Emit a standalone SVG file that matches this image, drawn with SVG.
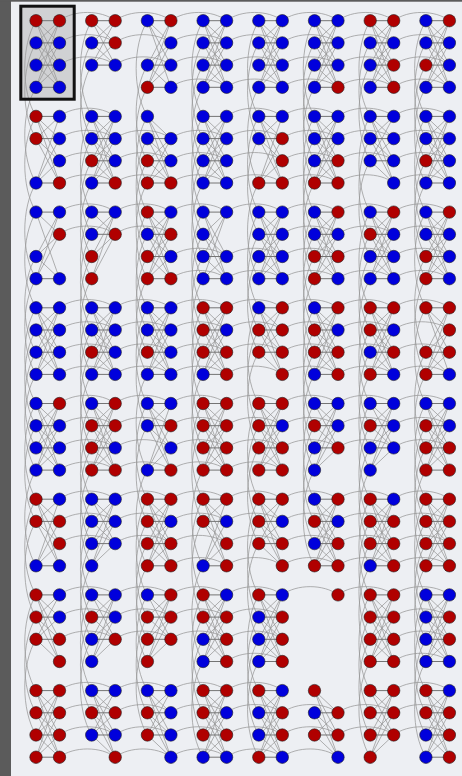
<svg xmlns="http://www.w3.org/2000/svg" xmlns:xlink="http://www.w3.org/1999/xlink" width="462" height="776" viewBox="0 0 462 776">
<style>
circle{r:6.2px;stroke:#1e1e1e;stroke-width:.6}
.r{fill:#b00000}
.b{fill:#0000dc}
</style>
<defs>
<path id="xK" d="M0 0L23.5 22.2M0 0L23.5 44.4M0 0L23.5 66.6M0 22.2L23.5 0M0 22.2L23.5 44.4M0 22.2L23.5 66.6M0 44.4L23.5 0M0 44.4L23.5 22.2M0 44.4L23.5 66.6M0 66.6L23.5 0M0 66.6L23.5 22.2M0 66.6L23.5 44.4"/>
<g id="K"><use href="#xK"/><path stroke="#747474" stroke-width="1" d="M0 0H23.5M0 22.2H23.5M0 44.4H23.5M0 66.6H23.5"/></g>
<g id="K01"><path d="M0 0L23.5 22.2M0 0L23.5 44.4M0 22.2L23.5 0M0 22.2L23.5 44.4M0 44.4L23.5 0M0 44.4L23.5 22.2"/><path stroke="#747474" stroke-width="1" d="M0 0H23.5M0 22.2H23.5M0 44.4H23.5"/></g>
<g id="K20"><path d="M0 0L23.5 22.2M0 0L23.5 66.6M0 44.4L23.5 0M0 44.4L23.5 22.2M0 44.4L23.5 66.6M0 66.6L23.5 0M0 66.6L23.5 22.2"/><path stroke="#747474" stroke-width="1" d="M0 0H23.5M0 66.6H23.5"/></g>
<g id="K21"><path d="M0 0L23.5 22.2M0 22.2L23.5 0M0 44.4L23.5 0M0 44.4L23.5 22.2M0 66.6L23.5 0M0 66.6L23.5 22.2"/><path stroke="#747474" stroke-width="1" d="M0 0H23.5M0 22.2H23.5"/></g>
<g id="K23"><path d="M0 0L23.5 44.4M0 0L23.5 66.6M0 22.2L23.5 0M0 22.2L23.5 44.4M0 22.2L23.5 66.6M0 44.4L23.5 0M0 44.4L23.5 66.6M0 66.6L23.5 0M0 66.6L23.5 44.4"/><path stroke="#747474" stroke-width="1" d="M0 0H23.5M0 44.4H23.5M0 66.6H23.5"/></g>
<g id="K75"><path d="M0 0L23.5 22.2M0 0L23.5 44.4M0 0L23.5 66.6M0 22.2L23.5 44.4M0 22.2L23.5 66.6M0 44.4L23.5 22.2M0 44.4L23.5 66.6"/><path stroke="#747474" stroke-width="1" d="M0 22.2H23.5M0 44.4H23.5"/></g>
<g id="KL1"><path d="M0 0L23.5 22.2M0 0L23.5 44.4M0 0L23.5 66.6M0 44.4L23.5 0M0 44.4L23.5 22.2M0 44.4L23.5 66.6M0 66.6L23.5 0M0 66.6L23.5 22.2M0 66.6L23.5 44.4"/><path stroke="#747474" stroke-width="1" d="M0 0H23.5M0 44.4H23.5M0 66.6H23.5"/></g>
<g id="KL2"><path d="M0 0L23.5 22.2M0 0L23.5 44.4M0 0L23.5 66.6M0 22.2L23.5 0M0 22.2L23.5 44.4M0 22.2L23.5 66.6M0 66.6L23.5 0M0 66.6L23.5 22.2M0 66.6L23.5 44.4"/><path stroke="#747474" stroke-width="1" d="M0 0H23.5M0 22.2H23.5M0 66.6H23.5"/></g>
<g id="KL3"><path d="M0 0L23.5 22.2M0 0L23.5 44.4M0 0L23.5 66.6M0 22.2L23.5 0M0 22.2L23.5 44.4M0 22.2L23.5 66.6M0 44.4L23.5 0M0 44.4L23.5 22.2M0 44.4L23.5 66.6"/><path stroke="#747474" stroke-width="1" d="M0 0H23.5M0 22.2H23.5M0 44.4H23.5"/></g>
<g id="KR3"><path d="M0 0L23.5 22.2M0 0L23.5 44.4M0 22.2L23.5 0M0 22.2L23.5 44.4M0 44.4L23.5 0M0 44.4L23.5 22.2M0 66.6L23.5 0M0 66.6L23.5 22.2M0 66.6L23.5 44.4"/><path stroke="#747474" stroke-width="1" d="M0 0H23.5M0 22.2H23.5M0 44.4H23.5"/></g>
<g id="KR0"><path d="M0 0L23.5 22.2M0 0L23.5 44.4M0 0L23.5 66.6M0 22.2L23.5 44.4M0 22.2L23.5 66.6M0 44.4L23.5 22.2M0 44.4L23.5 66.6M0 66.6L23.5 22.2M0 66.6L23.5 44.4"/><path stroke="#747474" stroke-width="1" d="M0 22.2H23.5M0 44.4H23.5M0 66.6H23.5"/></g>
<path id="v0" d="M0 0c-15 25 -15 70.7 0 95.7"/>
<path id="v1" d="M0 22.2c-15 25 -15 70.7 0 95.7"/>
<path id="v2" d="M0 44.4c-15 25 -15 70.7 0 95.7"/>
<path id="v3" d="M0 66.6c-15 25 -15 70.7 0 95.7"/>
<g id="V"><use href="#v0"/><use href="#v1"/><use href="#v2"/><use href="#v3"/></g>
<path id="h0" d="M23.5 0c14 -11 41.7 -11 55.7 0"/>
<path id="h1" d="M23.5 22.2c14 -11 41.7 -11 55.7 0"/>
<path id="h2" d="M23.5 44.4c14 -11 41.7 -11 55.7 0"/>
<path id="h3" d="M23.5 66.6c14 -11 41.7 -11 55.7 0"/>
<g id="H"><use href="#h0"/><use href="#h1"/><use href="#h2"/><use href="#h3"/></g>
</defs>
<rect width="462" height="776" fill="#edeff3"/>
<rect width="11" height="776" fill="#5b5b5b"/>
<rect width="462" height="1.7" fill="#5b5b5b"/>
<rect id="frame-fill" x="20.8" y="6.2" width="53.4" height="93" fill="#d0d1d3"/>
<g id="connectors" fill="none" stroke="#979797" stroke-width=".75">
<g transform="translate(36 20.7)"><use href="#K"/><use href="#v0"/><use href="#v1"/><use href="#v3"/><use href="#h0"/><use href="#h1"/><use href="#h2"/></g>
<g transform="translate(91.7 20.7)"><use href="#K01"/><use href="#v0"/><use href="#v1"/><use href="#v2"/><use href="#h0"/><use href="#h1"/><use href="#h2"/></g>
<g transform="translate(147.4 20.7)"><use href="#KL1"/><use href="#v0"/><use href="#v2"/><use href="#v3"/><use href="#H"/></g>
<g transform="translate(203.1 20.7)"><use href="#K"/><use href="#V"/><use href="#H"/></g>
<g transform="translate(258.8 20.7)"><use href="#K"/><use href="#v0"/><use href="#v1"/><use href="#v3"/><use href="#H"/></g>
<g transform="translate(314.5 20.7)"><use href="#K"/><use href="#V"/><use href="#H"/></g>
<g transform="translate(370.2 20.7)"><use href="#K"/><use href="#v0"/><use href="#v1"/><use href="#v2"/><use href="#H"/></g>
<g transform="translate(425.9 20.7)"><use href="#K"/><use href="#V"/></g>

<g transform="translate(36 116.4)"><use href="#KL2"/><use href="#v0"/><use href="#v3"/><use href="#H"/></g>
<g transform="translate(91.7 116.4)"><use href="#K"/><use href="#V"/><use href="#h1"/><use href="#h2"/><use href="#h3"/></g>
<g transform="translate(147.4 116.4)"><use href="#KR0"/><use href="#V"/><use href="#h1"/><use href="#h2"/><use href="#h3"/></g>
<g transform="translate(203.1 116.4)"><use href="#K"/><use href="#V"/><use href="#H"/></g>
<g transform="translate(258.8 116.4)"><use href="#KL2"/><use href="#v0"/><use href="#v1"/><use href="#v3"/><use href="#H"/></g>
<g transform="translate(314.5 116.4)"><use href="#K"/><use href="#V"/><use href="#H"/></g>
<g transform="translate(370.2 116.4)"><use href="#KL3"/><use href="#v0"/><use href="#v1"/><use href="#v2"/><use href="#H"/></g>
<g transform="translate(425.9 116.4)"><use href="#K"/><use href="#V"/></g>

<g transform="translate(36 212.1)"><use href="#K20"/><use href="#v0"/><use href="#v2"/><use href="#v3"/><use href="#h0"/><use href="#h1"/></g>
<g transform="translate(91.7 212.1)"><use href="#K21"/><use href="#V"/><use href="#h0"/><use href="#h1"/></g>
<g transform="translate(147.4 212.1)"><use href="#K"/><use href="#V"/><use href="#h0"/><use href="#h2"/><use href="#h3"/></g>
<g transform="translate(203.1 212.1)"><use href="#K23"/><use href="#V"/><use href="#h0"/><use href="#h2"/><use href="#h3"/></g>
<g transform="translate(258.8 212.1)"><use href="#K"/><use href="#v0"/><use href="#v1"/><use href="#v2"/><use href="#H"/></g>
<g transform="translate(314.5 212.1)"><use href="#K"/><use href="#V"/><use href="#H"/></g>
<g transform="translate(370.2 212.1)"><use href="#K"/><use href="#V"/><use href="#H"/></g>
<g transform="translate(425.9 212.1)"><use href="#K"/><use href="#v0"/><use href="#v2"/><use href="#v3"/></g>

<g transform="translate(36 307.8)"><use href="#K"/><use href="#V"/><use href="#H"/></g>
<g transform="translate(91.7 307.8)"><use href="#K"/><use href="#V"/><use href="#H"/></g>
<g transform="translate(147.4 307.8)"><use href="#K"/><use href="#v0"/><use href="#v1"/><use href="#v3"/><use href="#H"/></g>
<g transform="translate(203.1 307.8)"><use href="#K"/><use href="#V"/><use href="#H"/></g>
<g transform="translate(258.8 307.8)"><use href="#KL3"/><use href="#v0"/><use href="#v1"/><use href="#v2"/><use href="#H"/></g>
<g transform="translate(314.5 307.8)"><use href="#K"/><use href="#V"/><use href="#H"/></g>
<g transform="translate(370.2 307.8)"><use href="#K"/><use href="#V"/><use href="#H"/></g>
<g transform="translate(425.9 307.8)"><use href="#KL1"/><use href="#v0"/><use href="#v2"/><use href="#v3"/></g>

<g transform="translate(36 403.5)"><use href="#K"/><use href="#v0"/><use href="#v1"/><use href="#v3"/><use href="#H"/></g>
<g transform="translate(91.7 403.5)"><use href="#K"/><use href="#V"/><use href="#H"/></g>
<g transform="translate(147.4 403.5)"><use href="#KL2"/><use href="#v0"/><use href="#v1"/><use href="#v3"/><use href="#H"/></g>
<g transform="translate(203.1 403.5)"><use href="#K"/><use href="#v0"/><use href="#v1"/><use href="#v3"/><use href="#H"/></g>
<g transform="translate(258.8 403.5)"><use href="#K"/><use href="#v0"/><use href="#v1"/><use href="#v2"/><use href="#h0"/><use href="#h1"/><use href="#h2"/></g>
<g transform="translate(314.5 403.5)"><use href="#KR3"/><use href="#V"/><use href="#h0"/><use href="#h1"/><use href="#h2"/></g>
<g transform="translate(370.2 403.5)"><use href="#KR3"/><use href="#V"/><use href="#h0"/><use href="#h1"/><use href="#h2"/></g>
<g transform="translate(425.9 403.5)"><use href="#K"/><use href="#V"/></g>

<g transform="translate(36 499.2)"><use href="#KL2"/><use href="#v0"/><use href="#v1"/><use href="#h0"/><use href="#h1"/><use href="#h2"/></g>
<g transform="translate(91.7 499.2)"><use href="#KR3"/><use href="#V"/><use href="#h0"/><use href="#h1"/><use href="#h2"/></g>
<g transform="translate(147.4 499.2)"><use href="#K"/><use href="#V"/><use href="#H"/></g>
<g transform="translate(203.1 499.2)"><use href="#KL2"/><use href="#v0"/><use href="#v1"/><use href="#v3"/><use href="#H"/></g>
<g transform="translate(258.8 499.2)"><use href="#KL3"/><use href="#v0"/><use href="#v1"/><use href="#v2"/><use href="#H"/></g>
<g transform="translate(314.5 499.2)"><use href="#K"/><use href="#H"/></g>
<g transform="translate(370.2 499.2)"><use href="#K"/><use href="#V"/><use href="#H"/></g>
<g transform="translate(425.9 499.2)"><use href="#K"/><use href="#V"/></g>

<g transform="translate(36 594.9)"><use href="#KL3"/><use href="#v0"/><use href="#v1"/><use href="#v2"/><use href="#h0"/><use href="#h1"/><use href="#h2"/></g>
<g transform="translate(91.7 594.9)"><use href="#KR3"/><use href="#v0"/><use href="#v1"/><use href="#v2"/><use href="#h0"/><use href="#h1"/><use href="#h2"/></g>
<g transform="translate(147.4 594.9)"><use href="#KR3"/><use href="#v0"/><use href="#v1"/><use href="#v2"/><use href="#h0"/><use href="#h1"/><use href="#h2"/></g>
<g transform="translate(203.1 594.9)"><use href="#K"/><use href="#V"/><use href="#H"/></g>
<g transform="translate(258.8 594.9)"><use href="#K"/><use href="#V"/><use href="#h0"/></g>
<g transform="translate(314.5 594.9)"><use href="#h0"/></g>
<g transform="translate(370.2 594.9)"><use href="#K"/><use href="#V"/><use href="#H"/></g>
<g transform="translate(425.9 594.9)"><use href="#K"/><use href="#V"/></g>

<g transform="translate(36 690.6)"><use href="#K"/><use href="#H"/></g>
<g transform="translate(91.7 690.6)"><use href="#KL3"/><use href="#H"/></g>
<g transform="translate(147.4 690.6)"><use href="#KL3"/><use href="#H"/></g>
<g transform="translate(203.1 690.6)"><use href="#K"/><use href="#H"/></g>
<g transform="translate(258.8 690.6)"><use href="#K"/><use href="#h1"/><use href="#h2"/><use href="#h3"/></g>
<g transform="translate(314.5 690.6)"><use href="#K75"/><use href="#h1"/><use href="#h2"/></g>
<g transform="translate(370.2 690.6)"><use href="#KR3"/><use href="#h0"/><use href="#h1"/><use href="#h2"/></g>
<g transform="translate(425.9 690.6)"><use href="#K"/></g>
</g>
<g id="nodes">
<g id="c00" transform="translate(36 20.7)"><g id="n00L0"><circle class="r"/></g><g id="n00L1"><circle class="b" cy="22.2"/></g><g id="n00L2"><circle class="b" cy="44.4"/></g><g id="n00L3"><circle class="b" cy="66.6"/></g><g transform="translate(23.5 0)"><g id="n00R0"><circle class="r"/></g><g id="n00R1"><circle class="b" cy="22.2"/></g><g id="n00R2"><circle class="b" cy="44.4"/></g><g id="n00R3"><circle class="b" cy="66.6"/></g></g></g>
<g id="c01" transform="translate(91.7 20.7)"><g id="n01L0"><circle class="r"/></g><g id="n01L1"><circle class="b" cy="22.2"/></g><g id="n01L2"><circle class="b" cy="44.4"/></g><g transform="translate(23.5 0)"><g id="n01R0"><circle class="r"/></g><g id="n01R1"><circle class="r" cy="22.2"/></g><g id="n01R2"><circle class="b" cy="44.4"/></g></g></g>
<g id="c02" transform="translate(147.4 20.7)"><g id="n02L0"><circle class="b"/></g><g id="n02L2"><circle class="b" cy="44.4"/></g><g id="n02L3"><circle class="r" cy="66.6"/></g><g transform="translate(23.5 0)"><g id="n02R0"><circle class="r"/></g><g id="n02R1"><circle class="b" cy="22.2"/></g><g id="n02R2"><circle class="b" cy="44.4"/></g><g id="n02R3"><circle class="b" cy="66.6"/></g></g></g>
<g id="c03" transform="translate(203.1 20.7)"><g id="n03L0"><circle class="b"/></g><g id="n03L1"><circle class="b" cy="22.2"/></g><g id="n03L2"><circle class="b" cy="44.4"/></g><g id="n03L3"><circle class="b" cy="66.6"/></g><g transform="translate(23.5 0)"><g id="n03R0"><circle class="b"/></g><g id="n03R1"><circle class="b" cy="22.2"/></g><g id="n03R2"><circle class="b" cy="44.4"/></g><g id="n03R3"><circle class="b" cy="66.6"/></g></g></g>
<g id="c04" transform="translate(258.8 20.7)"><g id="n04L0"><circle class="b"/></g><g id="n04L1"><circle class="b" cy="22.2"/></g><g id="n04L2"><circle class="b" cy="44.4"/></g><g id="n04L3"><circle class="b" cy="66.6"/></g><g transform="translate(23.5 0)"><g id="n04R0"><circle class="b"/></g><g id="n04R1"><circle class="b" cy="22.2"/></g><g id="n04R2"><circle class="b" cy="44.4"/></g><g id="n04R3"><circle class="b" cy="66.6"/></g></g></g>
<g id="c05" transform="translate(314.5 20.7)"><g id="n05L0"><circle class="b"/></g><g id="n05L1"><circle class="b" cy="22.2"/></g><g id="n05L2"><circle class="b" cy="44.4"/></g><g id="n05L3"><circle class="b" cy="66.6"/></g><g transform="translate(23.5 0)"><g id="n05R0"><circle class="b"/></g><g id="n05R1"><circle class="b" cy="22.2"/></g><g id="n05R2"><circle class="b" cy="44.4"/></g><g id="n05R3"><circle class="r" cy="66.6"/></g></g></g>
<g id="c06" transform="translate(370.2 20.7)"><g id="n06L0"><circle class="r"/></g><g id="n06L1"><circle class="b" cy="22.2"/></g><g id="n06L2"><circle class="b" cy="44.4"/></g><g id="n06L3"><circle class="b" cy="66.6"/></g><g transform="translate(23.5 0)"><g id="n06R0"><circle class="r"/></g><g id="n06R1"><circle class="b" cy="22.2"/></g><g id="n06R2"><circle class="r" cy="44.4"/></g><g id="n06R3"><circle class="r" cy="66.6"/></g></g></g>
<g id="c07" transform="translate(425.9 20.7)"><g id="n07L0"><circle class="b"/></g><g id="n07L1"><circle class="b" cy="22.2"/></g><g id="n07L2"><circle class="r" cy="44.4"/></g><g id="n07L3"><circle class="b" cy="66.6"/></g><g transform="translate(23.5 0)"><g id="n07R0"><circle class="r"/></g><g id="n07R1"><circle class="b" cy="22.2"/></g><g id="n07R2"><circle class="b" cy="44.4"/></g><g id="n07R3"><circle class="b" cy="66.6"/></g></g></g>

<g id="c10" transform="translate(36 116.4)"><g id="n10L0"><circle class="r"/></g><g id="n10L1"><circle class="r" cy="22.2"/></g><g id="n10L3"><circle class="b" cy="66.6"/></g><g transform="translate(23.5 0)"><g id="n10R0"><circle class="b"/></g><g id="n10R1"><circle class="b" cy="22.2"/></g><g id="n10R2"><circle class="b" cy="44.4"/></g><g id="n10R3"><circle class="r" cy="66.6"/></g></g></g>
<g id="c11" transform="translate(91.7 116.4)"><g id="n11L0"><circle class="b"/></g><g id="n11L1"><circle class="b" cy="22.2"/></g><g id="n11L2"><circle class="r" cy="44.4"/></g><g id="n11L3"><circle class="b" cy="66.6"/></g><g transform="translate(23.5 0)"><g id="n11R0"><circle class="b"/></g><g id="n11R1"><circle class="b" cy="22.2"/></g><g id="n11R2"><circle class="b" cy="44.4"/></g><g id="n11R3"><circle class="r" cy="66.6"/></g></g></g>
<g id="c12" transform="translate(147.4 116.4)"><g id="n12L0"><circle class="b"/></g><g id="n12L1"><circle class="b" cy="22.2"/></g><g id="n12L2"><circle class="r" cy="44.4"/></g><g id="n12L3"><circle class="r" cy="66.6"/></g><g transform="translate(23.5 0)"><g id="n12R1"><circle class="b" cy="22.2"/></g><g id="n12R2"><circle class="b" cy="44.4"/></g><g id="n12R3"><circle class="r" cy="66.6"/></g></g></g>
<g id="c13" transform="translate(203.1 116.4)"><g id="n13L0"><circle class="b"/></g><g id="n13L1"><circle class="b" cy="22.2"/></g><g id="n13L2"><circle class="b" cy="44.4"/></g><g id="n13L3"><circle class="b" cy="66.6"/></g><g transform="translate(23.5 0)"><g id="n13R0"><circle class="b"/></g><g id="n13R1"><circle class="b" cy="22.2"/></g><g id="n13R2"><circle class="b" cy="44.4"/></g><g id="n13R3"><circle class="b" cy="66.6"/></g></g></g>
<g id="c14" transform="translate(258.8 116.4)"><g id="n14L0"><circle class="b"/></g><g id="n14L1"><circle class="b" cy="22.2"/></g><g id="n14L3"><circle class="r" cy="66.6"/></g><g transform="translate(23.5 0)"><g id="n14R0"><circle class="b"/></g><g id="n14R1"><circle class="r" cy="22.2"/></g><g id="n14R2"><circle class="r" cy="44.4"/></g><g id="n14R3"><circle class="r" cy="66.6"/></g></g></g>
<g id="c15" transform="translate(314.5 116.4)"><g id="n15L0"><circle class="b"/></g><g id="n15L1"><circle class="b" cy="22.2"/></g><g id="n15L2"><circle class="b" cy="44.4"/></g><g id="n15L3"><circle class="r" cy="66.6"/></g><g transform="translate(23.5 0)"><g id="n15R0"><circle class="b"/></g><g id="n15R1"><circle class="b" cy="22.2"/></g><g id="n15R2"><circle class="r" cy="44.4"/></g><g id="n15R3"><circle class="r" cy="66.6"/></g></g></g>
<g id="c16" transform="translate(370.2 116.4)"><g id="n16L0"><circle class="b"/></g><g id="n16L1"><circle class="b" cy="22.2"/></g><g id="n16L2"><circle class="b" cy="44.4"/></g><g transform="translate(23.5 0)"><g id="n16R0"><circle class="b"/></g><g id="n16R1"><circle class="b" cy="22.2"/></g><g id="n16R2"><circle class="b" cy="44.4"/></g><g id="n16R3"><circle class="b" cy="66.6"/></g></g></g>
<g id="c17" transform="translate(425.9 116.4)"><g id="n17L0"><circle class="b"/></g><g id="n17L1"><circle class="b" cy="22.2"/></g><g id="n17L2"><circle class="r" cy="44.4"/></g><g id="n17L3"><circle class="b" cy="66.6"/></g><g transform="translate(23.5 0)"><g id="n17R0"><circle class="b"/></g><g id="n17R1"><circle class="b" cy="22.2"/></g><g id="n17R2"><circle class="b" cy="44.4"/></g><g id="n17R3"><circle class="b" cy="66.6"/></g></g></g>

<g id="c20" transform="translate(36 212.1)"><g id="n20L0"><circle class="b"/></g><g id="n20L2"><circle class="b" cy="44.4"/></g><g id="n20L3"><circle class="b" cy="66.6"/></g><g transform="translate(23.5 0)"><g id="n20R0"><circle class="b"/></g><g id="n20R1"><circle class="r" cy="22.2"/></g><g id="n20R3"><circle class="b" cy="66.6"/></g></g></g>
<g id="c21" transform="translate(91.7 212.1)"><g id="n21L0"><circle class="b"/></g><g id="n21L1"><circle class="b" cy="22.2"/></g><g id="n21L2"><circle class="r" cy="44.4"/></g><g id="n21L3"><circle class="r" cy="66.6"/></g><g transform="translate(23.5 0)"><g id="n21R0"><circle class="b"/></g><g id="n21R1"><circle class="r" cy="22.2"/></g></g></g>
<g id="c22" transform="translate(147.4 212.1)"><g id="n22L0"><circle class="r"/></g><g id="n22L1"><circle class="b" cy="22.2"/></g><g id="n22L2"><circle class="r" cy="44.4"/></g><g id="n22L3"><circle class="r" cy="66.6"/></g><g transform="translate(23.5 0)"><g id="n22R0"><circle class="b"/></g><g id="n22R1"><circle class="r" cy="22.2"/></g><g id="n22R2"><circle class="b" cy="44.4"/></g><g id="n22R3"><circle class="r" cy="66.6"/></g></g></g>
<g id="c23" transform="translate(203.1 212.1)"><g id="n23L0"><circle class="b"/></g><g id="n23L1"><circle class="b" cy="22.2"/></g><g id="n23L2"><circle class="b" cy="44.4"/></g><g id="n23L3"><circle class="b" cy="66.6"/></g><g transform="translate(23.5 0)"><g id="n23R0"><circle class="b"/></g><g id="n23R2"><circle class="b" cy="44.4"/></g><g id="n23R3"><circle class="b" cy="66.6"/></g></g></g>
<g id="c24" transform="translate(258.8 212.1)"><g id="n24L0"><circle class="b"/></g><g id="n24L1"><circle class="b" cy="22.2"/></g><g id="n24L2"><circle class="b" cy="44.4"/></g><g id="n24L3"><circle class="b" cy="66.6"/></g><g transform="translate(23.5 0)"><g id="n24R0"><circle class="b"/></g><g id="n24R1"><circle class="b" cy="22.2"/></g><g id="n24R2"><circle class="b" cy="44.4"/></g><g id="n24R3"><circle class="b" cy="66.6"/></g></g></g>
<g id="c25" transform="translate(314.5 212.1)"><g id="n25L0"><circle class="b"/></g><g id="n25L1"><circle class="b" cy="22.2"/></g><g id="n25L2"><circle class="r" cy="44.4"/></g><g id="n25L3"><circle class="r" cy="66.6"/></g><g transform="translate(23.5 0)"><g id="n25R0"><circle class="r"/></g><g id="n25R1"><circle class="b" cy="22.2"/></g><g id="n25R2"><circle class="r" cy="44.4"/></g><g id="n25R3"><circle class="b" cy="66.6"/></g></g></g>
<g id="c26" transform="translate(370.2 212.1)"><g id="n26L0"><circle class="b"/></g><g id="n26L1"><circle class="r" cy="22.2"/></g><g id="n26L2"><circle class="b" cy="44.4"/></g><g id="n26L3"><circle class="b" cy="66.6"/></g><g transform="translate(23.5 0)"><g id="n26R0"><circle class="r"/></g><g id="n26R1"><circle class="b" cy="22.2"/></g><g id="n26R2"><circle class="b" cy="44.4"/></g><g id="n26R3"><circle class="b" cy="66.6"/></g></g></g>
<g id="c27" transform="translate(425.9 212.1)"><g id="n27L0"><circle class="b"/></g><g id="n27L1"><circle class="b" cy="22.2"/></g><g id="n27L2"><circle class="r" cy="44.4"/></g><g id="n27L3"><circle class="r" cy="66.6"/></g><g transform="translate(23.5 0)"><g id="n27R0"><circle class="r"/></g><g id="n27R1"><circle class="b" cy="22.2"/></g><g id="n27R2"><circle class="b" cy="44.4"/></g><g id="n27R3"><circle class="b" cy="66.6"/></g></g></g>

<g id="c30" transform="translate(36 307.8)"><g id="n30L0"><circle class="b"/></g><g id="n30L1"><circle class="b" cy="22.2"/></g><g id="n30L2"><circle class="b" cy="44.4"/></g><g id="n30L3"><circle class="b" cy="66.6"/></g><g transform="translate(23.5 0)"><g id="n30R0"><circle class="b"/></g><g id="n30R1"><circle class="b" cy="22.2"/></g><g id="n30R2"><circle class="b" cy="44.4"/></g><g id="n30R3"><circle class="b" cy="66.6"/></g></g></g>
<g id="c31" transform="translate(91.7 307.8)"><g id="n31L0"><circle class="b"/></g><g id="n31L1"><circle class="b" cy="22.2"/></g><g id="n31L2"><circle class="r" cy="44.4"/></g><g id="n31L3"><circle class="b" cy="66.6"/></g><g transform="translate(23.5 0)"><g id="n31R0"><circle class="b"/></g><g id="n31R1"><circle class="b" cy="22.2"/></g><g id="n31R2"><circle class="b" cy="44.4"/></g><g id="n31R3"><circle class="b" cy="66.6"/></g></g></g>
<g id="c32" transform="translate(147.4 307.8)"><g id="n32L0"><circle class="b"/></g><g id="n32L1"><circle class="b" cy="22.2"/></g><g id="n32L2"><circle class="r" cy="44.4"/></g><g id="n32L3"><circle class="b" cy="66.6"/></g><g transform="translate(23.5 0)"><g id="n32R0"><circle class="b"/></g><g id="n32R1"><circle class="b" cy="22.2"/></g><g id="n32R2"><circle class="b" cy="44.4"/></g><g id="n32R3"><circle class="b" cy="66.6"/></g></g></g>
<g id="c33" transform="translate(203.1 307.8)"><g id="n33L0"><circle class="r"/></g><g id="n33L1"><circle class="r" cy="22.2"/></g><g id="n33L2"><circle class="r" cy="44.4"/></g><g id="n33L3"><circle class="b" cy="66.6"/></g><g transform="translate(23.5 0)"><g id="n33R0"><circle class="r"/></g><g id="n33R1"><circle class="b" cy="22.2"/></g><g id="n33R2"><circle class="r" cy="44.4"/></g><g id="n33R3"><circle class="r" cy="66.6"/></g></g></g>
<g id="c34" transform="translate(258.8 307.8)"><g id="n34L0"><circle class="b"/></g><g id="n34L1"><circle class="r" cy="22.2"/></g><g id="n34L2"><circle class="r" cy="44.4"/></g><g transform="translate(23.5 0)"><g id="n34R0"><circle class="r"/></g><g id="n34R1"><circle class="r" cy="22.2"/></g><g id="n34R2"><circle class="r" cy="44.4"/></g><g id="n34R3"><circle class="r" cy="66.6"/></g></g></g>
<g id="c35" transform="translate(314.5 307.8)"><g id="n35L0"><circle class="b"/></g><g id="n35L1"><circle class="r" cy="22.2"/></g><g id="n35L2"><circle class="r" cy="44.4"/></g><g id="n35L3"><circle class="b" cy="66.6"/></g><g transform="translate(23.5 0)"><g id="n35R0"><circle class="r"/></g><g id="n35R1"><circle class="b" cy="22.2"/></g><g id="n35R2"><circle class="r" cy="44.4"/></g><g id="n35R3"><circle class="r" cy="66.6"/></g></g></g>
<g id="c36" transform="translate(370.2 307.8)"><g id="n36L0"><circle class="r"/></g><g id="n36L1"><circle class="r" cy="22.2"/></g><g id="n36L2"><circle class="b" cy="44.4"/></g><g id="n36L3"><circle class="r" cy="66.6"/></g><g transform="translate(23.5 0)"><g id="n36R0"><circle class="r"/></g><g id="n36R1"><circle class="b" cy="22.2"/></g><g id="n36R2"><circle class="r" cy="44.4"/></g><g id="n36R3"><circle class="b" cy="66.6"/></g></g></g>
<g id="c37" transform="translate(425.9 307.8)"><g id="n37L0"><circle class="r"/></g><g id="n37L2"><circle class="r" cy="44.4"/></g><g id="n37L3"><circle class="r" cy="66.6"/></g><g transform="translate(23.5 0)"><g id="n37R0"><circle class="r"/></g><g id="n37R1"><circle class="r" cy="22.2"/></g><g id="n37R2"><circle class="r" cy="44.4"/></g><g id="n37R3"><circle class="b" cy="66.6"/></g></g></g>

<g id="c40" transform="translate(36 403.5)"><g id="n40L0"><circle class="b"/></g><g id="n40L1"><circle class="b" cy="22.2"/></g><g id="n40L2"><circle class="b" cy="44.4"/></g><g id="n40L3"><circle class="b" cy="66.6"/></g><g transform="translate(23.5 0)"><g id="n40R0"><circle class="r"/></g><g id="n40R1"><circle class="b" cy="22.2"/></g><g id="n40R2"><circle class="b" cy="44.4"/></g><g id="n40R3"><circle class="b" cy="66.6"/></g></g></g>
<g id="c41" transform="translate(91.7 403.5)"><g id="n41L0"><circle class="b"/></g><g id="n41L1"><circle class="r" cy="22.2"/></g><g id="n41L2"><circle class="r" cy="44.4"/></g><g id="n41L3"><circle class="r" cy="66.6"/></g><g transform="translate(23.5 0)"><g id="n41R0"><circle class="r"/></g><g id="n41R1"><circle class="r" cy="22.2"/></g><g id="n41R2"><circle class="b" cy="44.4"/></g><g id="n41R3"><circle class="r" cy="66.6"/></g></g></g>
<g id="c42" transform="translate(147.4 403.5)"><g id="n42L0"><circle class="b"/></g><g id="n42L1"><circle class="b" cy="22.2"/></g><g id="n42L3"><circle class="b" cy="66.6"/></g><g transform="translate(23.5 0)"><g id="n42R0"><circle class="b"/></g><g id="n42R1"><circle class="r" cy="22.2"/></g><g id="n42R2"><circle class="b" cy="44.4"/></g><g id="n42R3"><circle class="r" cy="66.6"/></g></g></g>
<g id="c43" transform="translate(203.1 403.5)"><g id="n43L0"><circle class="r"/></g><g id="n43L1"><circle class="r" cy="22.2"/></g><g id="n43L2"><circle class="r" cy="44.4"/></g><g id="n43L3"><circle class="r" cy="66.6"/></g><g transform="translate(23.5 0)"><g id="n43R0"><circle class="r"/></g><g id="n43R1"><circle class="r" cy="22.2"/></g><g id="n43R2"><circle class="r" cy="44.4"/></g><g id="n43R3"><circle class="r" cy="66.6"/></g></g></g>
<g id="c44" transform="translate(258.8 403.5)"><g id="n44L0"><circle class="r"/></g><g id="n44L1"><circle class="r" cy="22.2"/></g><g id="n44L2"><circle class="r" cy="44.4"/></g><g id="n44L3"><circle class="r" cy="66.6"/></g><g transform="translate(23.5 0)"><g id="n44R0"><circle class="r"/></g><g id="n44R1"><circle class="b" cy="22.2"/></g><g id="n44R2"><circle class="r" cy="44.4"/></g><g id="n44R3"><circle class="r" cy="66.6"/></g></g></g>
<g id="c45" transform="translate(314.5 403.5)"><g id="n45L0"><circle class="b"/></g><g id="n45L1"><circle class="r" cy="22.2"/></g><g id="n45L2"><circle class="b" cy="44.4"/></g><g id="n45L3"><circle class="b" cy="66.6"/></g><g transform="translate(23.5 0)"><g id="n45R0"><circle class="b"/></g><g id="n45R1"><circle class="b" cy="22.2"/></g><g id="n45R2"><circle class="r" cy="44.4"/></g></g></g>
<g id="c46" transform="translate(370.2 403.5)"><g id="n46L0"><circle class="b"/></g><g id="n46L1"><circle class="r" cy="22.2"/></g><g id="n46L2"><circle class="b" cy="44.4"/></g><g id="n46L3"><circle class="b" cy="66.6"/></g><g transform="translate(23.5 0)"><g id="n46R0"><circle class="b"/></g><g id="n46R1"><circle class="b" cy="22.2"/></g><g id="n46R2"><circle class="b" cy="44.4"/></g></g></g>
<g id="c47" transform="translate(425.9 403.5)"><g id="n47L0"><circle class="b"/></g><g id="n47L1"><circle class="r" cy="22.2"/></g><g id="n47L2"><circle class="r" cy="44.4"/></g><g id="n47L3"><circle class="r" cy="66.6"/></g><g transform="translate(23.5 0)"><g id="n47R0"><circle class="b"/></g><g id="n47R1"><circle class="b" cy="22.2"/></g><g id="n47R2"><circle class="r" cy="44.4"/></g><g id="n47R3"><circle class="r" cy="66.6"/></g></g></g>

<g id="c50" transform="translate(36 499.2)"><g id="n50L0"><circle class="r"/></g><g id="n50L1"><circle class="r" cy="22.2"/></g><g id="n50L3"><circle class="b" cy="66.6"/></g><g transform="translate(23.5 0)"><g id="n50R0"><circle class="b"/></g><g id="n50R1"><circle class="r" cy="22.2"/></g><g id="n50R2"><circle class="r" cy="44.4"/></g><g id="n50R3"><circle class="b" cy="66.6"/></g></g></g>
<g id="c51" transform="translate(91.7 499.2)"><g id="n51L0"><circle class="b"/></g><g id="n51L1"><circle class="b" cy="22.2"/></g><g id="n51L2"><circle class="b" cy="44.4"/></g><g id="n51L3"><circle class="b" cy="66.6"/></g><g transform="translate(23.5 0)"><g id="n51R0"><circle class="b"/></g><g id="n51R1"><circle class="b" cy="22.2"/></g><g id="n51R2"><circle class="b" cy="44.4"/></g></g></g>
<g id="c52" transform="translate(147.4 499.2)"><g id="n52L0"><circle class="r"/></g><g id="n52L1"><circle class="r" cy="22.2"/></g><g id="n52L2"><circle class="r" cy="44.4"/></g><g id="n52L3"><circle class="r" cy="66.6"/></g><g transform="translate(23.5 0)"><g id="n52R0"><circle class="r"/></g><g id="n52R1"><circle class="b" cy="22.2"/></g><g id="n52R2"><circle class="r" cy="44.4"/></g><g id="n52R3"><circle class="r" cy="66.6"/></g></g></g>
<g id="c53" transform="translate(203.1 499.2)"><g id="n53L0"><circle class="r"/></g><g id="n53L1"><circle class="r" cy="22.2"/></g><g id="n53L3"><circle class="b" cy="66.6"/></g><g transform="translate(23.5 0)"><g id="n53R0"><circle class="r"/></g><g id="n53R1"><circle class="b" cy="22.2"/></g><g id="n53R2"><circle class="r" cy="44.4"/></g><g id="n53R3"><circle class="r" cy="66.6"/></g></g></g>
<g id="c54" transform="translate(258.8 499.2)"><g id="n54L0"><circle class="r"/></g><g id="n54L1"><circle class="r" cy="22.2"/></g><g id="n54L2"><circle class="r" cy="44.4"/></g><g transform="translate(23.5 0)"><g id="n54R0"><circle class="r"/></g><g id="n54R1"><circle class="b" cy="22.2"/></g><g id="n54R2"><circle class="r" cy="44.4"/></g><g id="n54R3"><circle class="r" cy="66.6"/></g></g></g>
<g id="c55" transform="translate(314.5 499.2)"><g id="n55L0"><circle class="b"/></g><g id="n55L1"><circle class="r" cy="22.2"/></g><g id="n55L2"><circle class="b" cy="44.4"/></g><g id="n55L3"><circle class="r" cy="66.6"/></g><g transform="translate(23.5 0)"><g id="n55R0"><circle class="r"/></g><g id="n55R1"><circle class="b" cy="22.2"/></g><g id="n55R2"><circle class="r" cy="44.4"/></g><g id="n55R3"><circle class="r" cy="66.6"/></g></g></g>
<g id="c56" transform="translate(370.2 499.2)"><g id="n56L0"><circle class="r"/></g><g id="n56L1"><circle class="r" cy="22.2"/></g><g id="n56L2"><circle class="r" cy="44.4"/></g><g id="n56L3"><circle class="b" cy="66.6"/></g><g transform="translate(23.5 0)"><g id="n56R0"><circle class="b"/></g><g id="n56R1"><circle class="r" cy="22.2"/></g><g id="n56R2"><circle class="r" cy="44.4"/></g><g id="n56R3"><circle class="r" cy="66.6"/></g></g></g>
<g id="c57" transform="translate(425.9 499.2)"><g id="n57L0"><circle class="r"/></g><g id="n57L1"><circle class="r" cy="22.2"/></g><g id="n57L2"><circle class="r" cy="44.4"/></g><g id="n57L3"><circle class="r" cy="66.6"/></g><g transform="translate(23.5 0)"><g id="n57R0"><circle class="r"/></g><g id="n57R1"><circle class="r" cy="22.2"/></g><g id="n57R2"><circle class="r" cy="44.4"/></g><g id="n57R3"><circle class="r" cy="66.6"/></g></g></g>

<g id="c60" transform="translate(36 594.9)"><g id="n60L0"><circle class="r"/></g><g id="n60L1"><circle class="r" cy="22.2"/></g><g id="n60L2"><circle class="r" cy="44.4"/></g><g transform="translate(23.5 0)"><g id="n60R0"><circle class="b"/></g><g id="n60R1"><circle class="b" cy="22.2"/></g><g id="n60R2"><circle class="r" cy="44.4"/></g><g id="n60R3"><circle class="r" cy="66.6"/></g></g></g>
<g id="c61" transform="translate(91.7 594.9)"><g id="n61L0"><circle class="b"/></g><g id="n61L1"><circle class="r" cy="22.2"/></g><g id="n61L2"><circle class="b" cy="44.4"/></g><g id="n61L3"><circle class="b" cy="66.6"/></g><g transform="translate(23.5 0)"><g id="n61R0"><circle class="b"/></g><g id="n61R1"><circle class="b" cy="22.2"/></g><g id="n61R2"><circle class="r" cy="44.4"/></g></g></g>
<g id="c62" transform="translate(147.4 594.9)"><g id="n62L0"><circle class="b"/></g><g id="n62L1"><circle class="r" cy="22.2"/></g><g id="n62L2"><circle class="r" cy="44.4"/></g><g id="n62L3"><circle class="r" cy="66.6"/></g><g transform="translate(23.5 0)"><g id="n62R0"><circle class="r"/></g><g id="n62R1"><circle class="r" cy="22.2"/></g><g id="n62R2"><circle class="r" cy="44.4"/></g></g></g>
<g id="c63" transform="translate(203.1 594.9)"><g id="n63L0"><circle class="r"/></g><g id="n63L1"><circle class="r" cy="22.2"/></g><g id="n63L2"><circle class="b" cy="44.4"/></g><g id="n63L3"><circle class="b" cy="66.6"/></g><g transform="translate(23.5 0)"><g id="n63R0"><circle class="b"/></g><g id="n63R1"><circle class="r" cy="22.2"/></g><g id="n63R2"><circle class="r" cy="44.4"/></g><g id="n63R3"><circle class="r" cy="66.6"/></g></g></g>
<g id="c64" transform="translate(258.8 594.9)"><g id="n64L0"><circle class="r"/></g><g id="n64L1"><circle class="b" cy="22.2"/></g><g id="n64L2"><circle class="b" cy="44.4"/></g><g id="n64L3"><circle class="b" cy="66.6"/></g><g transform="translate(23.5 0)"><g id="n64R0"><circle class="b"/></g><g id="n64R1"><circle class="r" cy="22.2"/></g><g id="n64R2"><circle class="r" cy="44.4"/></g><g id="n64R3"><circle class="r" cy="66.6"/></g></g></g>
<g id="c65" transform="translate(314.5 594.9)"><g transform="translate(23.5 0)"><g id="n65R0"><circle class="r"/></g></g></g>
<g id="c66" transform="translate(370.2 594.9)"><g id="n66L0"><circle class="r"/></g><g id="n66L1"><circle class="r" cy="22.2"/></g><g id="n66L2"><circle class="r" cy="44.4"/></g><g id="n66L3"><circle class="r" cy="66.6"/></g><g transform="translate(23.5 0)"><g id="n66R0"><circle class="r"/></g><g id="n66R1"><circle class="r" cy="22.2"/></g><g id="n66R2"><circle class="r" cy="44.4"/></g><g id="n66R3"><circle class="r" cy="66.6"/></g></g></g>
<g id="c67" transform="translate(425.9 594.9)"><g id="n67L0"><circle class="b"/></g><g id="n67L1"><circle class="b" cy="22.2"/></g><g id="n67L2"><circle class="b" cy="44.4"/></g><g id="n67L3"><circle class="b" cy="66.6"/></g><g transform="translate(23.5 0)"><g id="n67R0"><circle class="b"/></g><g id="n67R1"><circle class="r" cy="22.2"/></g><g id="n67R2"><circle class="r" cy="44.4"/></g><g id="n67R3"><circle class="b" cy="66.6"/></g></g></g>

<g id="c70" transform="translate(36 690.6)"><g id="n70L0"><circle class="r"/></g><g id="n70L1"><circle class="r" cy="22.2"/></g><g id="n70L2"><circle class="r" cy="44.4"/></g><g id="n70L3"><circle class="r" cy="66.6"/></g><g transform="translate(23.5 0)"><g id="n70R0"><circle class="r"/></g><g id="n70R1"><circle class="r" cy="22.2"/></g><g id="n70R2"><circle class="r" cy="44.4"/></g><g id="n70R3"><circle class="r" cy="66.6"/></g></g></g>
<g id="c71" transform="translate(91.7 690.6)"><g id="n71L0"><circle class="b"/></g><g id="n71L1"><circle class="r" cy="22.2"/></g><g id="n71L2"><circle class="b" cy="44.4"/></g><g transform="translate(23.5 0)"><g id="n71R0"><circle class="b"/></g><g id="n71R1"><circle class="r" cy="22.2"/></g><g id="n71R2"><circle class="b" cy="44.4"/></g><g id="n71R3"><circle class="r" cy="66.6"/></g></g></g>
<g id="c72" transform="translate(147.4 690.6)"><g id="n72L0"><circle class="b"/></g><g id="n72L1"><circle class="r" cy="22.2"/></g><g id="n72L2"><circle class="r" cy="44.4"/></g><g transform="translate(23.5 0)"><g id="n72R0"><circle class="b"/></g><g id="n72R1"><circle class="b" cy="22.2"/></g><g id="n72R2"><circle class="b" cy="44.4"/></g><g id="n72R3"><circle class="b" cy="66.6"/></g></g></g>
<g id="c73" transform="translate(203.1 690.6)"><g id="n73L0"><circle class="r"/></g><g id="n73L1"><circle class="r" cy="22.2"/></g><g id="n73L2"><circle class="r" cy="44.4"/></g><g id="n73L3"><circle class="b" cy="66.6"/></g><g transform="translate(23.5 0)"><g id="n73R0"><circle class="r"/></g><g id="n73R1"><circle class="b" cy="22.2"/></g><g id="n73R2"><circle class="r" cy="44.4"/></g><g id="n73R3"><circle class="b" cy="66.6"/></g></g></g>
<g id="c74" transform="translate(258.8 690.6)"><g id="n74L0"><circle class="r"/></g><g id="n74L1"><circle class="b" cy="22.2"/></g><g id="n74L2"><circle class="b" cy="44.4"/></g><g id="n74L3"><circle class="r" cy="66.6"/></g><g transform="translate(23.5 0)"><g id="n74R0"><circle class="b"/></g><g id="n74R1"><circle class="r" cy="22.2"/></g><g id="n74R2"><circle class="r" cy="44.4"/></g><g id="n74R3"><circle class="b" cy="66.6"/></g></g></g>
<g id="c75" transform="translate(314.5 690.6)"><g id="n75L0"><circle class="r"/></g><g id="n75L1"><circle class="b" cy="22.2"/></g><g id="n75L2"><circle class="r" cy="44.4"/></g><g transform="translate(23.5 0)"><g id="n75R1"><circle class="r" cy="22.2"/></g><g id="n75R2"><circle class="r" cy="44.4"/></g><g id="n75R3"><circle class="b" cy="66.6"/></g></g></g>
<g id="c76" transform="translate(370.2 690.6)"><g id="n76L0"><circle class="r"/></g><g id="n76L1"><circle class="r" cy="22.2"/></g><g id="n76L2"><circle class="r" cy="44.4"/></g><g id="n76L3"><circle class="r" cy="66.6"/></g><g transform="translate(23.5 0)"><g id="n76R0"><circle class="r"/></g><g id="n76R1"><circle class="r" cy="22.2"/></g><g id="n76R2"><circle class="r" cy="44.4"/></g></g></g>
<g id="c77" transform="translate(425.9 690.6)"><g id="n77L0"><circle class="r"/></g><g id="n77L1"><circle class="r" cy="22.2"/></g><g id="n77L2"><circle class="b" cy="44.4"/></g><g id="n77L3"><circle class="b" cy="66.6"/></g><g transform="translate(23.5 0)"><g id="n77R0"><circle class="b"/></g><g id="n77R1"><circle class="r" cy="22.2"/></g><g id="n77R2"><circle class="r" cy="44.4"/></g><g id="n77R3"><circle class="r" cy="66.6"/></g></g></g>
</g>
<rect id="frame" x="20.8" y="6.2" width="53.4" height="93" fill="none" stroke="#111" stroke-width="3"/>
</svg>
